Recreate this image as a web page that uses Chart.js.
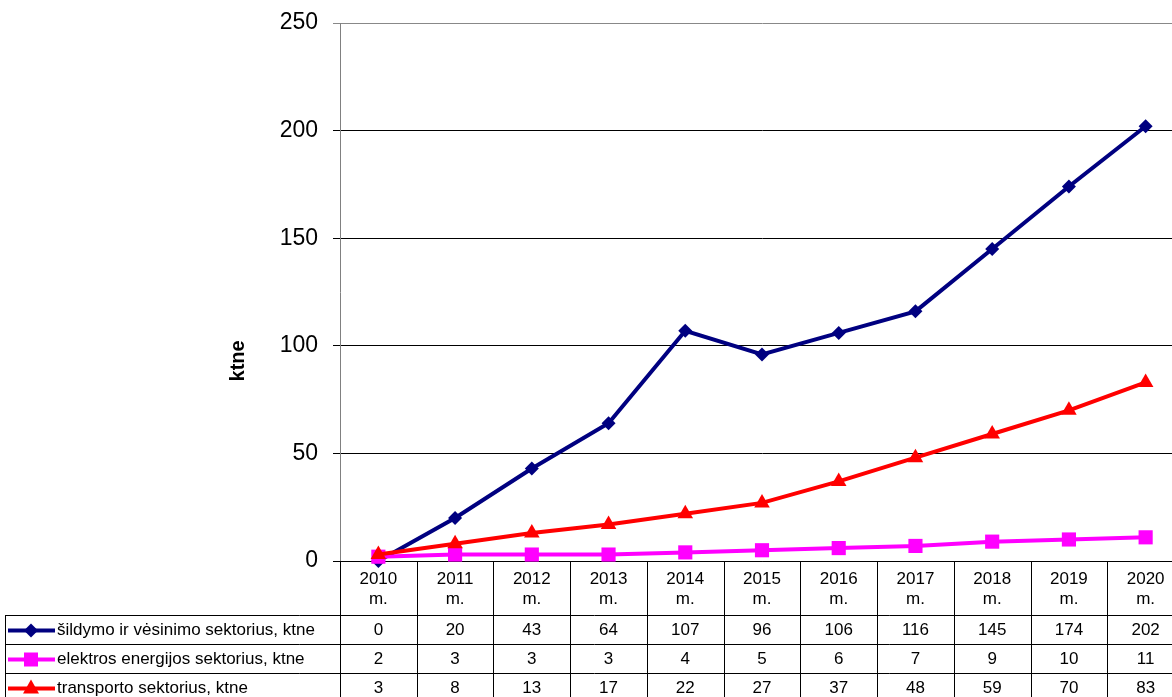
<!DOCTYPE html>
<html>
<head>
<meta charset="utf-8">
<script src="https://cdn.jsdelivr.net/npm/chart.js@4/dist/chart.umd.min.js"></script>
<style>
  html, body { margin: 0; padding: 0; background: #fff; overflow: hidden; }
  #wrap { width: 1200px; height: 697px; }
</style>
</head>
<body>
<div id="wrap"><canvas id="c" width="1200" height="697"></canvas></div>
<script>
// data
const years = ['2010', '2011', '2012', '2013', '2014', '2015', '2016', '2017', '2018', '2019', '2020']
const seriesNames = [
  'šildymo ir vėsinimo sektorius, ktne',
  'elektros energijos sektorius, ktne',
  'transporto sektorius, ktne'
]
const heating = [0, 20, 43, 64, 107, 96, 106, 116, 145, 174, 202]
const electricity = [2, 3, 3, 3, 4, 5, 6, 7, 9, 10, 11]
const transport = [3, 8, 13, 17, 22, 27, 37, 48, 59, 70, 83]
const yTicks = [0, 50, 100, 150, 200, 250]
const yTitle = 'ktne'

const colors = ['#000080', '#ff00ff', '#ff0000']
const styles = ['rectRot', 'rect', 'triangle']
const values = [heating, electricity, transport]

const FONT = 'Arial, "Liberation Sans", sans-serif'

function marker(ctx, style, x, y, color) {
  ctx.fillStyle = color
  ctx.beginPath()
  if (style === 'rectRot') {
    ctx.moveTo(x - 7, y); ctx.lineTo(x, y - 7); ctx.lineTo(x + 7, y); ctx.lineTo(x, y + 7)
  } else if (style === 'rect') {
    ctx.rect(x - 7, y - 7, 14, 14)
  } else {
    ctx.moveTo(x, y - 9); ctx.lineTo(x + 8, y + 5); ctx.lineTo(x - 8, y + 5)
  }
  ctx.closePath()
  ctx.fill()
}

// data table under the x axis, plus the axis title placed like the original
const tablePlugin = {
  id: 'dataTable',
  afterDraw(chart) {
    const ctx = chart.ctx
    const x = chart.scales.x
    const top = chart.chartArea.bottom
    const half = (x.getPixelForValue(1) - x.getPixelForValue(0)) / 2
    const headH = 54
    const rowH = 29
    const left = 5
    const right = x.getPixelForValue(years.length - 1) + half
    const bottom = top + headH + rowH * values.length

    ctx.save()
    ctx.strokeStyle = '#000'
    ctx.lineWidth = 1
    ctx.beginPath()
    for (let i = 0; i <= years.length; i++) {
      const px = Math.round(x.getPixelForValue(0) - half + i * 2 * half) + 0.5
      ctx.moveTo(px, top); ctx.lineTo(px, bottom)
    }
    ctx.moveTo(left + 0.5, top + headH); ctx.lineTo(left + 0.5, bottom)
    for (let r = 0; r <= values.length; r++) {
      const py = Math.round(top + headH + r * rowH) + 0.5
      ctx.moveTo(left, py); ctx.lineTo(right, py)
    }
    ctx.stroke()

    ctx.font = '17px ' + FONT
    ctx.textBaseline = 'middle'
    values.forEach((vals, r) => {
      const cy = top + headH + r * rowH + rowH / 2 + 1
      ctx.strokeStyle = colors[r]
      ctx.lineWidth = 4
      ctx.beginPath(); ctx.moveTo(8, cy); ctx.lineTo(55, cy); ctx.stroke()
      marker(ctx, styles[r], 31, cy, colors[r])
      ctx.fillStyle = '#000'
      ctx.textAlign = 'left'
      ctx.fillText(seriesNames[r], 57, cy)
      ctx.textAlign = 'center'
      vals.forEach((v, i) => ctx.fillText(String(v), x.getPixelForValue(i), cy))
    })

    // y title sits a bit below the middle in the original
    ctx.translate(238, chart.scales.y.getPixelForValue(93))
    ctx.rotate(-Math.PI / 2)
    ctx.font = 'bold 20px ' + FONT
    ctx.textAlign = 'center'
    ctx.fillText(yTitle, 0, 0)
    ctx.restore()
  }
}

const bg = {
  id: 'bg',
  beforeDraw(chart) {
    const ctx = chart.ctx
    ctx.save()
    ctx.fillStyle = '#fff'
    ctx.fillRect(0, 0, chart.width, chart.height)
    ctx.restore()
  }
}

const datasets = values.map((vals, i) => ({
  label: seriesNames[i],
  data: vals,
  borderColor: colors[i],
  backgroundColor: colors[i],
  borderWidth: 4,
  pointStyle: styles[i],
  pointRadius: [7, 10, 9][i],
  pointBorderWidth: 0,
  tension: 0,
  clip: false,
  order: 2 - i
}))

new Chart(document.getElementById('c'), {
  type: 'line',
  data: { labels: years.map(y => [y, 'm.']), datasets },
  options: {
    responsive: false,
    animation: false,
    layout: { padding: { left: 222, top: 23, right: 16, bottom: 0 } },
    plugins: { legend: { display: false }, tooltip: { enabled: false } },
    scales: {
      x: {
        offset: true,
        grid: { display: false },
        border: { display: true, color: '#000' },
        ticks: {
          autoSkip: false, maxRotation: 0, padding: 0, color: '#000',
          font: { family: FONT, size: 17, lineHeight: 1.2 }
        },
        afterFit(scale) { scale.height = 136; scale.paddingLeft = 0; scale.paddingRight = 0 }
      },
      y: {
        min: 0,
        max: 250,
        afterBuildTicks(scale) { scale.ticks = yTicks.map(v => ({ value: v })) },
        grid: {
          color: ctx => ctx.tick && ctx.tick.value === 250 ? '#888' : '#000',
          tickLength: 7
        },
        border: { display: true, color: '#808080', width: 1 },
        ticks: { padding: 15, color: '#000', font: { family: FONT, size: 23 } },
        afterFit(scale) { scale.width = 118; scale.paddingTop = 0; scale.paddingBottom = 0 }
      }
    }
  },
  plugins: [bg, tablePlugin]
})
</script>
</body>
</html>
